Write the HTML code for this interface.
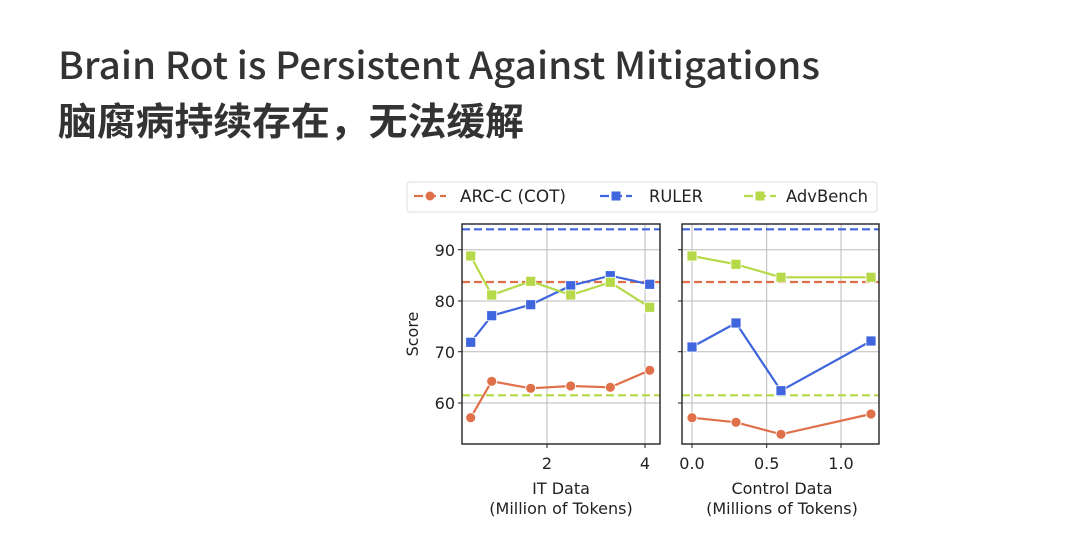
<!DOCTYPE html>
<html><head><meta charset="utf-8"><style>
html,body{margin:0;padding:0;background:#fff;width:1080px;height:554px;overflow:hidden}
</style></head><body>
<svg width="1080" height="554" xmlns="http://www.w3.org/2000/svg" font-family="'DejaVu Sans',sans-serif">
<text x="58" y="79" font-family="'Noto Sans CJK SC','Liberation Sans',sans-serif" font-size="37" font-weight="500" fill="#333" textLength="762" lengthAdjust="spacingAndGlyphs">Brain Rot is Persistent Against Mitigations</text>
<text x="58" y="135" font-family="'Noto Sans CJK SC',sans-serif" font-size="38" font-weight="700" fill="#333" textLength="466" lengthAdjust="spacingAndGlyphs">脑腐病持续存在，无法缓解</text>

<!-- legend -->
<rect x="407" y="182" width="470" height="30" rx="3" fill="#fff" stroke="#ddd"/>
<line x1="414" y1="196" x2="446" y2="196" stroke="#e0704a" stroke-width="2.2" stroke-dasharray="9,4"/><circle cx="430" cy="196" r="4.5" fill="#e0704a"/>
<text x="460" y="202" font-size="17" fill="#222" textLength="106" lengthAdjust="spacingAndGlyphs">ARC-C (COT)</text>
<line x1="600" y1="196" x2="632" y2="196" stroke="#3f66dd" stroke-width="2.2" stroke-dasharray="9,4"/><rect x="611.5" y="191.5" width="9" height="9" fill="#3f66dd"/>
<text x="649" y="202" font-size="17" fill="#222" textLength="54" lengthAdjust="spacingAndGlyphs">RULER</text>
<line x1="744" y1="196" x2="776" y2="196" stroke="#b6d94a" stroke-width="2.2" stroke-dasharray="9,4"/><rect x="755.5" y="191.5" width="9" height="9" fill="#b6d94a"/>
<text x="786" y="202" font-size="17" fill="#222" textLength="82" lengthAdjust="spacingAndGlyphs">AdvBench</text>

<g stroke="#bbb" stroke-width="1">
<line x1="462" y1="249.7" x2="660" y2="249.7"/><line x1="462" y1="301" x2="660" y2="301"/><line x1="462" y1="351.7" x2="660" y2="351.7"/><line x1="462" y1="403" x2="660" y2="403"/>
<line x1="547" y1="224" x2="547" y2="444"/><line x1="645" y1="224" x2="645" y2="444"/>
<line x1="682" y1="249.7" x2="879" y2="249.7"/><line x1="682" y1="301" x2="879" y2="301"/><line x1="682" y1="351.7" x2="879" y2="351.7"/><line x1="682" y1="403" x2="879" y2="403"/>
<line x1="692" y1="224" x2="692" y2="444"/><line x1="766.7" y1="224" x2="766.7" y2="444"/><line x1="841" y1="224" x2="841" y2="444"/>
</g>
<g stroke-width="2.2" stroke-dasharray="8,4">
<line x1="462" y1="229.3" x2="660" y2="229.3" stroke="#3f66dd"/><line x1="462" y1="282" x2="660" y2="282" stroke="#e0704a"/><line x1="462" y1="395.3" x2="660" y2="395.3" stroke="#b6d94a"/>
<line x1="682" y1="229.3" x2="879" y2="229.3" stroke="#3f66dd"/><line x1="682" y1="282" x2="879" y2="282" stroke="#e0704a"/><line x1="682" y1="395.3" x2="879" y2="395.3" stroke="#b6d94a"/>
</g>
<g fill="none" stroke-width="2.2">
<polyline stroke="#e0704a" points="470.7,417.7 491.7,381.3 530.7,388.3 570.7,386 610.3,387.3 649.7,370.3"/>
<polyline stroke="#3f66dd" points="470.7,342.3 491.7,315.7 530.7,304.7 570.7,285.7 610.3,275.7 649.7,284.3"/>
<polyline stroke="#b6d94a" points="470.7,256 491.7,295 530.7,281.3 570.7,295 610.3,282.3 649.7,307.3"/>
<polyline stroke="#e0704a" points="692,417.7 736,422.3 781,434.3 871,414"/>
<polyline stroke="#3f66dd" points="692,347 736,323 781,390.7 871,341"/>
<polyline stroke="#b6d94a" points="692,256 736,264.3 781,277.3 871,277.3"/>
</g>
<g fill="#e0704a" stroke="#fff" stroke-width="0.8">
<circle cx="470.7" cy="417.7" r="5"/><circle cx="491.7" cy="381.3" r="5"/><circle cx="530.7" cy="388.3" r="5"/><circle cx="570.7" cy="386" r="5"/><circle cx="610.3" cy="387.3" r="5"/><circle cx="649.7" cy="370.3" r="5"/>
<circle cx="692" cy="417.7" r="5"/><circle cx="736" cy="422.3" r="5"/><circle cx="781" cy="434.3" r="5"/><circle cx="871" cy="414" r="5"/>
</g>
<g fill="#3f66dd" stroke="#fff" stroke-width="0.8">
<rect x="465.7" y="337.3" width="10" height="10"/><rect x="486.7" y="310.7" width="10" height="10"/><rect x="525.7" y="299.7" width="10" height="10"/><rect x="565.7" y="280.7" width="10" height="10"/><rect x="605.3" y="270.7" width="10" height="10"/><rect x="644.7" y="279.3" width="10" height="10"/>
<rect x="687" y="342" width="10" height="10"/><rect x="731" y="318" width="10" height="10"/><rect x="776" y="385.7" width="10" height="10"/><rect x="866" y="336" width="10" height="10"/>
</g>
<g fill="#b6d94a" stroke="#fff" stroke-width="0.8">
<rect x="465.7" y="251" width="10" height="10"/><rect x="486.7" y="290" width="10" height="10"/><rect x="525.7" y="276.3" width="10" height="10"/><rect x="565.7" y="290" width="10" height="10"/><rect x="605.3" y="277.3" width="10" height="10"/><rect x="644.7" y="302.3" width="10" height="10"/>
<rect x="687" y="251" width="10" height="10"/><rect x="731" y="259.3" width="10" height="10"/><rect x="776" y="272.3" width="10" height="10"/><rect x="866" y="272.3" width="10" height="10"/>
</g>
<rect x="462" y="224" width="198" height="220" fill="none" stroke="#222" stroke-width="1.4"/>
<rect x="682" y="224" width="197" height="220" fill="none" stroke="#222" stroke-width="1.4"/>
<g stroke="#222" stroke-width="1">
<line x1="458" y1="249.7" x2="462" y2="249.7"/><line x1="458" y1="301" x2="462" y2="301"/><line x1="458" y1="351.7" x2="462" y2="351.7"/><line x1="458" y1="403" x2="462" y2="403"/>
<line x1="678" y1="249.7" x2="682" y2="249.7"/><line x1="678" y1="301" x2="682" y2="301"/><line x1="678" y1="351.7" x2="682" y2="351.7"/><line x1="678" y1="403" x2="682" y2="403"/>
<line x1="547" y1="444" x2="547" y2="448"/><line x1="645" y1="444" x2="645" y2="448"/>
<line x1="692" y1="444" x2="692" y2="448"/><line x1="766.7" y1="444" x2="766.7" y2="448"/><line x1="841" y1="444" x2="841" y2="448"/>
</g>
<g font-size="16" fill="#222">
<g text-anchor="end"><text x="455" y="256">90</text><text x="455" y="307">80</text><text x="455" y="358">70</text><text x="455" y="409">60</text></g>
<g text-anchor="middle">
<text x="547" y="469">2</text><text x="645" y="469">4</text>
<text x="692" y="469">0.0</text><text x="766.7" y="469">0.5</text><text x="841" y="469">1.0</text>
<text x="561" y="494">IT Data</text><text x="561" y="514">(Million of Tokens)</text>
<text x="782" y="494">Control Data</text><text x="782" y="514">(Millions of Tokens)</text>
<text transform="translate(418,334) rotate(-90)">Score</text>
</g></g>
</svg>
</body></html>
